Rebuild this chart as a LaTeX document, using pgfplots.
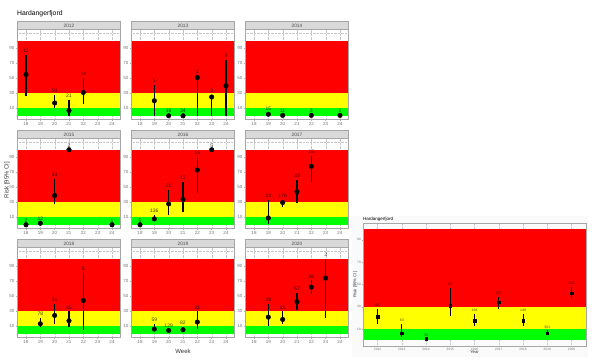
\documentclass[border=0pt]{standalone}
\usepackage{pgfplots}
\usepackage{pgfplotstable}
\pgfplotsset{compat=1.18}
\usepackage{fontspec}
\setmainfont{Liberation Sans}
\definecolor{zred}{RGB}{255,0,0}
\definecolor{zyellow}{RGB}{255,255,0}
\definecolor{zgreen}{RGB}{0,255,0}
\definecolor{stripgray}{RGB}{217,217,217}

\pgfplotstableread{
x y lo hi n
18 55 26 81 11
20 17 10 28 50
21 7 0 21 21
22 31 16 51 14
}\dA
\pgfplotstableread{
x y lo hi n
19 20 0 41 5
20 0 0 1 16
21 0 0 1 34
22 51 0 53 2
23 25 0 28 3
24 40 0 75 3
}\dB
\pgfplotstableread{
x y lo hi n
19 2 1 4 15
20 0.5 0 1 11
22 0.5 0 1 3
24 0.5 0 1 1
}\dC
\pgfplotstableread{
x y lo hi n
18 0 0 0 2
19 2 0 3 12
20 39 28 61 48
21 100 100 100 2
24 0 0 0 1
}\dD
\pgfplotstableread{
x y lo hi n
18 0 0 0 5
19 7.8 4.7 13 136
20 27.8 13 46.4 21
21 33.6 17.6 57.6 12
22 73 42.4 91 15
23 100 100 100 5
}\dE
\pgfplotstableread{
x y lo hi n
19 9 1 33 13
20 29.6 24 33 176
21 44 28.7 60 33
22 78 56.7 92 15
}\dF
\pgfplotstableread{
x y lo hi n
19 13.3 8.4 21.3 78
20 24.4 12.9 39.6 31
21 17.3 8.4 29.8 35
22 44.4 4.4 80.9 5
}\dG
\pgfplotstableread{
x y lo hi n
19 6.2 3.1 12.9 59
20 4.4 3 6 129
21 5.3 2.7 8.9 82
22 15.6 6.2 29.8 31
}\dH
\pgfplotstableread{
x y lo hi n
19 22.2 10.7 39.6 28
20 19.1 12.9 29.8 51
21 42.7 32 54.2 57
22 62.2 53.3 71.1 66
23 74.2 21 100 3
}\dI
\pgfplotstableread{
x y lo hi n
2012 21.3 14.5 28 96
2013 6.5 3 14.5 63
2014 1.3 1.3 1.3 30
2015 31 22 47 65
2016 17.5 12.4 23.5 194
2017 34.2 28 39 237
2018 17.5 12.4 23.5 149
2019 6.5 4.5 9 301
2020 42.3 37.8 48 205
}\dY

\pgfplotsset{
  common/.style={
    scale only axis, anchor=south west, clip=false,
    ytick={10,30,50,70,90},
    grid=major, grid style={densely dotted, gray!45, line width=0.3pt},
    axis line style={gray!70, line width=0.4pt},
    tick align=outside, tick style={gray!60, line width=0.4pt},
    major tick length=1.8pt, xtick pos=bottom, ytick pos=left,
    /pgf/number format/assume math mode=true,
    /pgf/number format/1000 sep={},
    scaled ticks=false,
  },
  facet/.style={common,
    width=103.2pt, height=90pt,
    xmin=17.4, xmax=24.6, ymin=-5, ymax=115,
    xtick={18,...,24},
    extra y ticks={110}, extra y tick labels={}, extra y tick style={major tick length=0pt},
    ticklabel style={font=\fontsize{4.5}{5}\selectfont, text=black!55, inner sep=1pt},
  },
}

\newcommand\facet[4]{%
\begin{axis}[facet, at={(#1pt,#2pt)}]
\addplot[fill=zgreen, draw=none] coordinates {(17.4,0) (24.6,0) (24.6,10) (17.4,10)} -- cycle;
\addplot[fill=zyellow, draw=none] coordinates {(17.4,10) (24.6,10) (24.6,30) (17.4,30)} -- cycle;
\addplot[fill=zred, draw=none] coordinates {(17.4,30) (24.6,30) (24.6,100) (17.4,100)} -- cycle;
\addplot[only marks, mark=*, mark size=2.3pt, black,
  error bars/.cd, y dir=both, y explicit, error mark=none,
  error bar style={line width=1.1pt, black}]
  table[x=x, y=y, y error plus expr=\thisrow{hi}-\thisrow{y}, y error minus expr=\thisrow{y}-\thisrow{lo}] {#4};
\addplot[draw=none, mark=none, nodes near coords, point meta=explicit symbolic,
  every node near coord/.append style={font=\fontsize{5}{6}\selectfont, text=black, text opacity=0.75, inner sep=0.5pt, yshift=1.5pt}]
  table[x=x, y=hi, meta=n] {#4};
\draw[gray!70, line width=0.4pt] (rel axis cs:0,0) rectangle (rel axis cs:1,1);
\draw[fill=stripgray, draw=gray!70, line width=0.4pt] (rel axis cs:0,1) rectangle ([yshift=8pt]rel axis cs:1,1);
\node[font=\fontsize{4.8}{5}\selectfont, text=black!70, inner sep=0pt] at ([yshift=4pt]rel axis cs:0.5,1) {#3};
\end{axis}}

\begin{document}
\begin{tikzpicture}
\useasboundingbox (0pt,0pt) rectangle (602pt,360pt);
\fill[gray!4] (352pt,3pt) rectangle (588pt,144pt);

\facet{17.4}{240.5}{2012}{\dA}
\facet{131.4}{240.5}{2013}{\dB}
\facet{245.4}{240.5}{2014}{\dC}
\facet{17.4}{131.5}{2015}{\dD}
\facet{131.4}{131.5}{2016}{\dE}
\facet{245.4}{131.5}{2017}{\dF}
\facet{17.4}{22.5}{2018}{\dG}
\facet{131.4}{22.5}{2019}{\dH}
\facet{245.4}{22.5}{2020}{\dI}

\node[anchor=west, font=\fontsize{6.8}{8}\selectfont, inner sep=0pt] at (17pt,346.5pt) {Hardangerfjord};
\node[font=\fontsize{6}{7}\selectfont, inner sep=0pt, text=black!80] at (183pt,9pt) {Week};
\node[rotate=90, font=\fontsize{6}{7}\selectfont, inner sep=0pt, text=black!80] at (7pt,180pt) {Risk [95\% CI]};

\begin{axis}[common, at={(363pt,14.1pt)}, width=223.1pt, height=122.9pt,
  xmin=2011.4, xmax=2020.6, ymin=-5, ymax=105,
  xtick={2012,...,2020},
  ticklabel style={font=\fontsize{3.2}{4}\selectfont, text=black!55, inner sep=0.8pt},
  major tick length=1.2pt,
  xlabel={Year}, ylabel={Risk [95\% CI]},
  label style={font=\fontsize{4.2}{5}\selectfont, text=black!80, inner sep=0pt},
  xlabel style={yshift=1pt}, ylabel style={yshift=-1pt}]
\addplot[fill=zgreen, draw=none] coordinates {(2011.4,0) (2020.6,0) (2020.6,10) (2011.4,10)} -- cycle;
\addplot[fill=zyellow, draw=none] coordinates {(2011.4,10) (2020.6,10) (2020.6,30) (2011.4,30)} -- cycle;
\addplot[fill=zred, draw=none] coordinates {(2011.4,30) (2020.6,30) (2020.6,100) (2011.4,100)} -- cycle;
\addplot[only marks, mark=square*, mark size=1.3pt, black,
  error bars/.cd, y dir=both, y explicit, error mark=none,
  error bar style={line width=0.7pt, black}]
  table[x=x, y=y, y error plus expr=\thisrow{hi}-\thisrow{y}, y error minus expr=\thisrow{y}-\thisrow{lo}] {\dY};
\addplot[draw=none, mark=none, nodes near coords, point meta=explicit symbolic,
  every node near coord/.append style={font=\fontsize{3.5}{4}\selectfont, text=black, text opacity=0.7, inner sep=0.5pt, yshift=1.5pt}]
  table[x=x, y=hi, meta=n] {\dY};
\draw[gray!70, line width=0.4pt] (rel axis cs:0,0) rectangle (rel axis cs:1,1);
\node[anchor=south west, font=\fontsize{4.5}{5}\selectfont, inner sep=0pt] at ([yshift=1.5pt]rel axis cs:0,1) {Hardangerfjord};
\end{axis}
\end{tikzpicture}
\end{document}
